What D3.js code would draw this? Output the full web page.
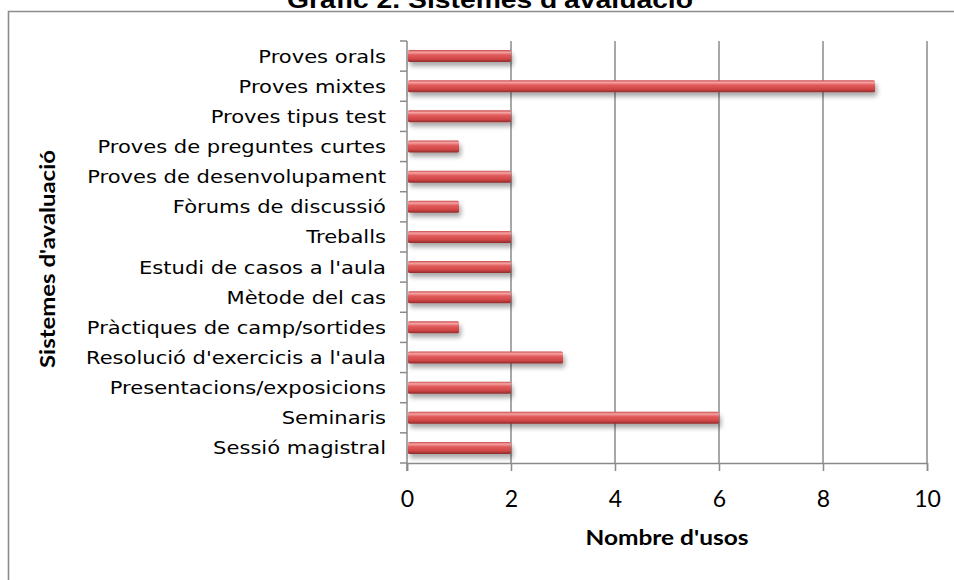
<!DOCTYPE html>
<html lang="ca">
<head>
<meta charset="UTF-8">
<title>Gràfic 2. Sistemes d'avaluació</title>
<script src="https://d3js.org/d3.v7.min.js"></script>
<style>
  html, body { margin: 0; padding: 0; background: #fff; overflow: hidden; }
  svg { display: block; }
</style>
</head>
<body>
<svg width="954" height="580"></svg>
<script>
// data, top to bottom as shown
const categories = [
  "Proves orals", "Proves mixtes", "Proves tipus test", "Proves de preguntes curtes",
  "Proves de desenvolupament", "Fòrums de discussió", "Treballs", "Estudi de casos a l'aula",
  "Mètode del cas", "Pràctiques de camp/sortides", "Resolució d'exercicis a l'aula",
  "Presentacions/exposicions", "Seminaris", "Sessió magistral"
];
const usos = [2, 9, 2, 1, 2, 1, 2, 2, 2, 1, 3, 2, 6, 2];
const xTicks = [0, 2, 4, 6, 8, 10];

const svg = d3.select("svg");
const plot = { left: 407, right: 927, top: 41, bottom: 463 };

const x = d3.scaleLinear().domain([0, 10]).range([plot.left, plot.right]);
const y = d3.scaleBand().domain(categories).range([plot.top, plot.bottom]);

// gradient + shadow for the glossy bars
const defs = svg.append("defs");
const grad = defs.append("linearGradient").attr("id", "barGrad")
  .attr("x1", 0).attr("y1", 0).attr("x2", 0).attr("y2", 1);
[["0%", "#c84848"], ["18%", "#f6a4a4"], ["40%", "#e25c5c"], ["75%", "#d04646"], ["100%", "#8e2a2a"]]
  .forEach(([o, c]) => grad.append("stop").attr("offset", o).attr("stop-color", c));
const shadow = defs.append("filter").attr("id", "shadow")
  .attr("x", "-5%").attr("y", "-50%").attr("width", "115%").attr("height", "250%");
shadow.append("feGaussianBlur").attr("in", "SourceAlpha").attr("stdDeviation", 2.4);
shadow.append("feOffset").attr("dx", 2).attr("dy", 4).attr("result", "b");
shadow.append("feComponentTransfer").append("feFuncA").attr("type", "linear").attr("slope", 0.35);
const m = shadow.append("feMerge");
m.append("feMergeNode");
m.append("feMergeNode").attr("in", "SourceGraphic");

// outer frame (runs off the page on right and bottom)
svg.append("path")
  .attr("d", "M8.5,600 V11.5 H960")
  .attr("fill", "none").attr("stroke", "#8c8c8c").attr("stroke-width", 1.6);

// title (cut off at the top, as in the original)
svg.append("text")
  .attr("x", 490).attr("y", 8)
  .attr("text-anchor", "middle")
  .attr("font-family", "Liberation Sans, Arial, sans-serif")
  .attr("font-weight", "bold").attr("font-size", 24)
  .attr("textLength", 406).attr("lengthAdjust", "spacingAndGlyphs")
  .text("Gràfic 2. Sistemes d'avaluació");

// vertical grid lines
svg.append("g").selectAll("line")
  .data(xTicks.slice(1))
  .join("line")
  .attr("x1", d => x(d)).attr("x2", d => x(d))
  .attr("y1", plot.top).attr("y2", plot.bottom)
  .attr("stroke", "#8a8a8a").attr("stroke-width", 1.5);

// x axis
const xAxis = svg.append("g")
  .attr("transform", `translate(0,${plot.bottom})`)
  .call(d3.axisBottom(x).tickValues(xTicks).tickSize(8).tickPadding(20));
xAxis.select(".domain").attr("stroke", "#8a8a8a").attr("stroke-width", 1.5);
xAxis.selectAll(".tick line").attr("stroke", "#8a8a8a").attr("stroke-width", 1.5);
xAxis.selectAll("text")
  .attr("font-family", "Lato, Carlito, sans-serif")
  .attr("font-size", 23).attr("fill", "#000");

// y axis: ticks at category boundaries
const yAxis = svg.append("g").attr("transform", `translate(${plot.left},0)`);
yAxis.append("line")
  .attr("x1", 0).attr("x2", 0).attr("y1", plot.top).attr("y2", plot.bottom + 8)
  .attr("stroke", "#8a8a8a").attr("stroke-width", 1.5);
yAxis.selectAll("line.tk")
  .data(categories.concat([null]))
  .join("line").attr("class", "tk")
  .attr("x1", -7).attr("x2", 0)
  .attr("y1", (d, i) => plot.top + i * y.step())
  .attr("y2", (d, i) => plot.top + i * y.step())
  .attr("stroke", "#8a8a8a").attr("stroke-width", 1.5);
// labels are drawn wide in the original, so stretch them a little
yAxis.selectAll("g.lbl")
  .data(categories)
  .join("g").attr("class", "lbl")
  .attr("transform", d => `translate(-21,${y(d) + y.bandwidth() / 2}) scale(1.17,1)`)
  .append("text")
  .attr("dy", "0.36em")
  .attr("text-anchor", "end")
  .attr("font-family", "DejaVu Sans, Verdana, sans-serif")
  .attr("font-size", 18)
  .text(d => d);

// bars
const barH = 12;
svg.append("g").selectAll("rect")
  .data(categories)
  .join("rect")
  .attr("x", x(0) + 1)
  .attr("y", d => y(d) + y.bandwidth() / 2 - barH / 2)
  .attr("width", (d, i) => x(usos[i]) - x(0) - 1)
  .attr("height", barH)
  .attr("rx", 1.5)
  .attr("fill", "url(#barGrad)")
  .attr("filter", "url(#shadow)");

// axis titles
svg.append("text")
  .attr("x", (plot.left + plot.right) / 2).attr("y", 545)
  .attr("text-anchor", "middle")
  .attr("font-family", "Lato, Carlito, sans-serif")
  .attr("font-weight", "bold").attr("font-size", 21)
  .attr("textLength", 163).attr("lengthAdjust", "spacingAndGlyphs")
  .text("Nombre d'usos");

svg.append("text")
  .attr("transform", "translate(55,259) rotate(-90)")
  .attr("text-anchor", "middle")
  .attr("font-family", "Lato, Carlito, sans-serif")
  .attr("font-weight", "bold").attr("font-size", 21)
  .attr("textLength", 218).attr("lengthAdjust", "spacingAndGlyphs")
  .text("Sistemes d'avaluació");
</script>
</body>
</html>
